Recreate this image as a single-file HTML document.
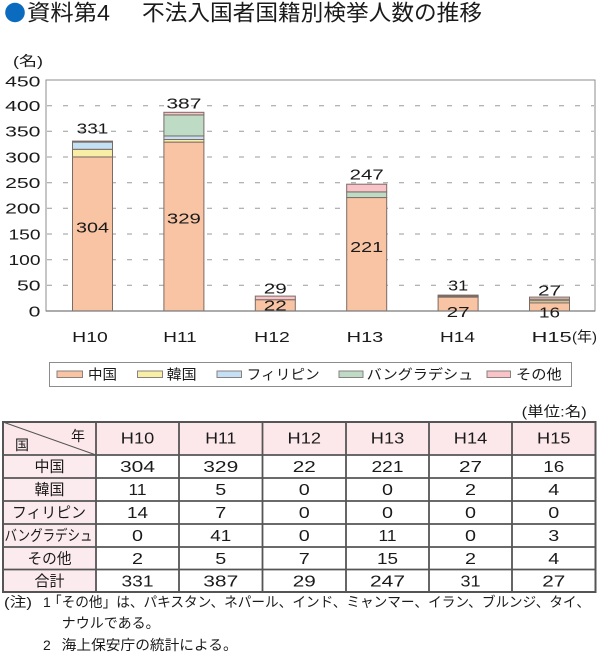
<!DOCTYPE html>
<html><head><meta charset="utf-8"><style>
html,body{margin:0;padding:0;background:#fff;}
svg{display:block;}
text{font-family:"Liberation Sans","Noto Sans CJK JP",sans-serif;fill:#1a1a1a;}
</style></head><body>
<svg width="600" height="662" viewBox="0 0 600 662" xmlns="http://www.w3.org/2000/svg">
<!-- Title -->
<circle cx="15" cy="12.5" r="9.8" fill="#0b6cbf"/>
<text x="27" y="20.5" font-size="22" textLength="83" lengthAdjust="spacingAndGlyphs">資料第4</text>
<text x="142" y="20.5" font-size="22" textLength="340" lengthAdjust="spacingAndGlyphs">不法入国者国籍別検挙人数の推移</text>

<!-- unit -->
<text x="13" y="66" font-size="14" textLength="30" lengthAdjust="spacingAndGlyphs">(名)</text>

<!-- plot area -->
<rect x="46" y="80" width="549" height="231" fill="#fff" stroke="#8c8c8c" stroke-width="1"/>
<g stroke="#9a9a9a" stroke-width="1" stroke-dasharray="5,11">
<line x1="47" y1="285.3" x2="594" y2="285.3"/>
<line x1="47" y1="259.7" x2="594" y2="259.7"/>
<line x1="47" y1="234" x2="594" y2="234"/>
<line x1="47" y1="208.3" x2="594" y2="208.3"/>
<line x1="47" y1="182.7" x2="594" y2="182.7"/>
<line x1="47" y1="157" x2="594" y2="157"/>
<line x1="47" y1="131.3" x2="594" y2="131.3"/>
<line x1="47" y1="105.7" x2="594" y2="105.7"/>
</g>

<!-- y labels -->
<g font-size="15" text-anchor="end">
<text x="40.5" y="86.3" textLength="35.4" lengthAdjust="spacingAndGlyphs">450</text>
<text x="40.5" y="111" textLength="35.4" lengthAdjust="spacingAndGlyphs">400</text>
<text x="40.5" y="136.6" textLength="35.4" lengthAdjust="spacingAndGlyphs">350</text>
<text x="40.5" y="162.3" textLength="35.4" lengthAdjust="spacingAndGlyphs">300</text>
<text x="40.5" y="188" textLength="35.4" lengthAdjust="spacingAndGlyphs">250</text>
<text x="40.5" y="213.6" textLength="35.4" lengthAdjust="spacingAndGlyphs">200</text>
<text x="40.5" y="239.3" textLength="32" lengthAdjust="spacingAndGlyphs">150</text>
<text x="40.5" y="265" textLength="32" lengthAdjust="spacingAndGlyphs">100</text>
<text x="40.5" y="290.6" textLength="23.5" lengthAdjust="spacingAndGlyphs">50</text>
<text x="40.5" y="316.3" textLength="11.8" lengthAdjust="spacingAndGlyphs">0</text>
</g>

<!-- bars -->
<g stroke="#7a6c64" stroke-width="1">
<!-- H10 -->
<rect x="72.5" y="156.95" width="40" height="154.05" fill="#f8c4a4"/>
<rect x="72.5" y="149.3" width="40" height="7.65" fill="#f8eea6"/>
<rect x="72.5" y="142.1" width="40" height="7.2" fill="#c4e0f4"/>
<rect x="72.5" y="141.1" width="40" height="1" fill="#f8c4c8"/>
<!-- H11 -->
<rect x="163.9" y="142.1" width="40" height="168.9" fill="#f8c4a4"/>
<rect x="163.9" y="139.5" width="40" height="2.6" fill="#f8eea6"/>
<rect x="163.9" y="135.95" width="40" height="3.55" fill="#c4e0f4"/>
<rect x="163.9" y="114.9" width="40" height="21.05" fill="#bedcc5"/>
<rect x="163.9" y="112.3" width="40" height="2.6" fill="#f8c4c8"/>
<!-- H12 -->
<rect x="255.3" y="299.7" width="40" height="11.3" fill="#f8c4a4"/>
<rect x="255.3" y="296.1" width="40" height="3.6" fill="#f8c4c8"/>
<!-- H13 -->
<rect x="346.7" y="197.55" width="40" height="113.45" fill="#f8c4a4"/>
<rect x="346.7" y="191.9" width="40" height="5.65" fill="#bedcc5"/>
<rect x="346.7" y="184.2" width="40" height="7.7" fill="#f8c4c8"/>
<!-- H14 -->
<rect x="438.1" y="297.1" width="40" height="13.9" fill="#f8c4a4"/>
<rect x="438.1" y="296.1" width="40" height="1" fill="#f8eea6"/>
<rect x="438.1" y="295.1" width="40" height="1" fill="#f8c4c8"/>
<!-- H15 -->
<rect x="529.5" y="302.8" width="40" height="8.2" fill="#f8c4a4"/>
<rect x="529.5" y="300.7" width="40" height="2.1" fill="#f8eea6"/>
<rect x="529.5" y="299.2" width="40" height="1.5" fill="#bedcc5"/>
<rect x="529.5" y="297.1" width="40" height="2.1" fill="#f8c4c8"/>
</g>
<line x1="46" y1="311" x2="595" y2="311" stroke="#7a7a7a" stroke-width="1.2"/>

<!-- value labels -->
<g font-size="15" text-anchor="middle">
<text x="92.5" y="133.3" textLength="31.6" lengthAdjust="spacingAndGlyphs">331</text>
<text x="92.5" y="232.6" textLength="33" lengthAdjust="spacingAndGlyphs">304</text>
<text x="183.9" y="108.3" textLength="35" lengthAdjust="spacingAndGlyphs">387</text>
<text x="183.9" y="223.6" textLength="34" lengthAdjust="spacingAndGlyphs">329</text>
<text x="275.3" y="293.3" textLength="23" lengthAdjust="spacingAndGlyphs">29</text>
<text x="275.3" y="310.3" textLength="23" lengthAdjust="spacingAndGlyphs">22</text>
<text x="366.7" y="179.3" textLength="34" lengthAdjust="spacingAndGlyphs">247</text>
<text x="366.7" y="252" textLength="33" lengthAdjust="spacingAndGlyphs">221</text>
<text x="458.1" y="290.3" textLength="20" lengthAdjust="spacingAndGlyphs">31</text>
<text x="458.1" y="317" textLength="23" lengthAdjust="spacingAndGlyphs">27</text>
<text x="549.5" y="295.3" textLength="23" lengthAdjust="spacingAndGlyphs">27</text>
<text x="549.5" y="317.6" textLength="21" lengthAdjust="spacingAndGlyphs">16</text>
</g>

<!-- x labels -->
<g font-size="15" text-anchor="middle">
<text x="90" y="342" textLength="35.6" lengthAdjust="spacingAndGlyphs">H10</text>
<text x="180" y="342" textLength="33.4" lengthAdjust="spacingAndGlyphs">H11</text>
<text x="272" y="342" textLength="35.6" lengthAdjust="spacingAndGlyphs">H12</text>
<text x="365" y="342" textLength="36.6" lengthAdjust="spacingAndGlyphs">H13</text>
<text x="457.5" y="342" textLength="35" lengthAdjust="spacingAndGlyphs">H14</text>
<text x="551.7" y="342" textLength="40" lengthAdjust="spacingAndGlyphs">H15</text>
</g>
<text x="572" y="341.7" font-size="14" textLength="25" lengthAdjust="spacingAndGlyphs">(年)</text>

<!-- legend -->
<rect x="49.5" y="362.5" width="522" height="24" fill="#fff" stroke="#8c8c8c" stroke-width="1"/>
<g stroke="#8a8080" stroke-width="1">
<rect x="57" y="371" width="25.5" height="6.5" fill="#f8c4a4"/>
<rect x="137.5" y="371" width="25" height="6.5" fill="#f8eea6"/>
<rect x="217" y="371" width="24.5" height="6.5" fill="#c4e0f4"/>
<rect x="339" y="371" width="24" height="6.5" fill="#bedcc5"/>
<rect x="487" y="371" width="23.5" height="6.5" fill="#f8c4c8"/>
</g>
<g font-size="14">
<text x="88" y="379.5" textLength="29" lengthAdjust="spacingAndGlyphs">中国</text>
<text x="166.7" y="379.5" textLength="30" lengthAdjust="spacingAndGlyphs">韓国</text>
<text x="246.7" y="379.5" textLength="73" lengthAdjust="spacingAndGlyphs">フィリピン</text>
<text x="366.7" y="379.5" textLength="106.6" lengthAdjust="spacingAndGlyphs">バングラデシュ</text>
<text x="516" y="379.5" textLength="45.7" lengthAdjust="spacingAndGlyphs">その他</text>
</g>

<!-- unit for table -->
<text x="521.7" y="416.7" font-size="14" textLength="65" lengthAdjust="spacingAndGlyphs">(単位:名)</text>

<!-- table -->
<rect x="3" y="422" width="592.5" height="33" fill="#fce8eb"/>
<rect x="3" y="455" width="93" height="137" fill="#fcebee"/>
<g stroke="#555" stroke-width="1.8" fill="none">
<line x1="3" y1="455" x2="595.5" y2="455"/>
<line x1="3" y1="478" x2="595.5" y2="478"/>
<line x1="3" y1="501" x2="595.5" y2="501"/>
<line x1="3" y1="524" x2="595.5" y2="524"/>
<line x1="3" y1="547" x2="595.5" y2="547"/>
<line x1="3" y1="569.5" x2="595.5" y2="569.5"/>
<line x1="96" y1="422" x2="96" y2="592"/>
<line x1="179" y1="422" x2="179" y2="592"/>
<line x1="262.5" y1="422" x2="262.5" y2="592"/>
<line x1="346" y1="422" x2="346" y2="592"/>
<line x1="429" y1="422" x2="429" y2="592"/>
<line x1="512" y1="422" x2="512" y2="592"/>
<rect x="3" y="422" width="592.5" height="170" stroke-width="2"/>
</g>
<line x1="3" y1="422" x2="96" y2="455" stroke="#555" stroke-width="1"/>
<text x="71" y="441" font-size="14">年</text>
<text x="15" y="450" font-size="14">国</text>

<g font-size="16" text-anchor="middle">
<text x="137.5" y="443.7" textLength="33.4" lengthAdjust="spacingAndGlyphs">H10</text>
<text x="220.75" y="443.7" textLength="31" lengthAdjust="spacingAndGlyphs">H11</text>
<text x="304.25" y="443.7" textLength="33.4" lengthAdjust="spacingAndGlyphs">H12</text>
<text x="387.5" y="443.7" textLength="33.4" lengthAdjust="spacingAndGlyphs">H13</text>
<text x="470.5" y="443.7" textLength="33.4" lengthAdjust="spacingAndGlyphs">H14</text>
<text x="553.75" y="443.7" textLength="33.4" lengthAdjust="spacingAndGlyphs">H15</text>
</g>
<g font-size="15" text-anchor="middle">
<text x="49.5" y="471.5" textLength="30" lengthAdjust="spacingAndGlyphs">中国</text>
<text x="49.5" y="494.5" textLength="30" lengthAdjust="spacingAndGlyphs">韓国</text>
<text x="49" y="517.5" textLength="74" lengthAdjust="spacingAndGlyphs">フィリピン</text>
<text x="48.5" y="540.5" textLength="88" lengthAdjust="spacingAndGlyphs">バングラデシュ</text>
<text x="49.5" y="563.3" textLength="44" lengthAdjust="spacingAndGlyphs">その他</text>
<text x="49.5" y="585.8" textLength="30" lengthAdjust="spacingAndGlyphs">合計</text>
</g>
<g font-size="16" text-anchor="middle">
<!-- 中国 -->
<text x="137.5" y="472.2" textLength="35" lengthAdjust="spacingAndGlyphs">304</text>
<text x="220.75" y="472.2" textLength="35" lengthAdjust="spacingAndGlyphs">329</text>
<text x="304.25" y="472.2" textLength="23" lengthAdjust="spacingAndGlyphs">22</text>
<text x="387.5" y="472.2" textLength="32" lengthAdjust="spacingAndGlyphs">221</text>
<text x="470.5" y="472.2" textLength="23" lengthAdjust="spacingAndGlyphs">27</text>
<text x="553.75" y="472.2" textLength="21" lengthAdjust="spacingAndGlyphs">16</text>
<!-- 韓国 -->
<text x="137.5" y="495.2" textLength="18" lengthAdjust="spacingAndGlyphs">11</text>
<text x="220.75" y="495.2" textLength="11" lengthAdjust="spacingAndGlyphs">5</text>
<text x="304.25" y="495.2" textLength="11" lengthAdjust="spacingAndGlyphs">0</text>
<text x="387.5" y="495.2" textLength="11" lengthAdjust="spacingAndGlyphs">0</text>
<text x="470.5" y="495.2" textLength="11" lengthAdjust="spacingAndGlyphs">2</text>
<text x="553.75" y="495.2" textLength="11" lengthAdjust="spacingAndGlyphs">4</text>
<!-- フィリピン -->
<text x="137.5" y="518.2" textLength="21" lengthAdjust="spacingAndGlyphs">14</text>
<text x="220.75" y="518.2" textLength="11" lengthAdjust="spacingAndGlyphs">7</text>
<text x="304.25" y="518.2" textLength="11" lengthAdjust="spacingAndGlyphs">0</text>
<text x="387.5" y="518.2" textLength="11" lengthAdjust="spacingAndGlyphs">0</text>
<text x="470.5" y="518.2" textLength="11" lengthAdjust="spacingAndGlyphs">0</text>
<text x="553.75" y="518.2" textLength="11" lengthAdjust="spacingAndGlyphs">0</text>
<!-- バングラデシュ -->
<text x="137.5" y="541.2" textLength="11" lengthAdjust="spacingAndGlyphs">0</text>
<text x="220.75" y="541.2" textLength="21" lengthAdjust="spacingAndGlyphs">41</text>
<text x="304.25" y="541.2" textLength="11" lengthAdjust="spacingAndGlyphs">0</text>
<text x="387.5" y="541.2" textLength="18" lengthAdjust="spacingAndGlyphs">11</text>
<text x="470.5" y="541.2" textLength="11" lengthAdjust="spacingAndGlyphs">0</text>
<text x="553.75" y="541.2" textLength="11" lengthAdjust="spacingAndGlyphs">3</text>
<!-- その他 -->
<text x="137.5" y="564" textLength="11" lengthAdjust="spacingAndGlyphs">2</text>
<text x="220.75" y="564" textLength="11" lengthAdjust="spacingAndGlyphs">5</text>
<text x="304.25" y="564" textLength="11" lengthAdjust="spacingAndGlyphs">7</text>
<text x="387.5" y="564" textLength="21" lengthAdjust="spacingAndGlyphs">15</text>
<text x="470.5" y="564" textLength="11" lengthAdjust="spacingAndGlyphs">2</text>
<text x="553.75" y="564" textLength="11" lengthAdjust="spacingAndGlyphs">4</text>
<!-- 合計 -->
<text x="137.5" y="586.5" textLength="32" lengthAdjust="spacingAndGlyphs">331</text>
<text x="220.75" y="586.5" textLength="35" lengthAdjust="spacingAndGlyphs">387</text>
<text x="304.25" y="586.5" textLength="23" lengthAdjust="spacingAndGlyphs">29</text>
<text x="387.5" y="586.5" textLength="35" lengthAdjust="spacingAndGlyphs">247</text>
<text x="470.5" y="586.5" textLength="20" lengthAdjust="spacingAndGlyphs">31</text>
<text x="553.75" y="586.5" textLength="23" lengthAdjust="spacingAndGlyphs">27</text>
</g>

<!-- notes -->
<g font-size="14">
<text x="4" y="607" textLength="28" lengthAdjust="spacingAndGlyphs">(注)</text>
<text x="43" y="607">1</text>
<text x="48" y="607" textLength="542" lengthAdjust="spacingAndGlyphs">「その他」は、パキスタン、ネパール、インド、ミャンマー、イラン、ブルンジ、タイ、</text>
<text x="61.7" y="628" textLength="98" lengthAdjust="spacingAndGlyphs">ナウルである。</text>
<text x="43" y="650">2</text>
<text x="61.7" y="650" textLength="176" lengthAdjust="spacingAndGlyphs">海上保安庁の統計による。</text>
</g>
</svg>
</body></html>
